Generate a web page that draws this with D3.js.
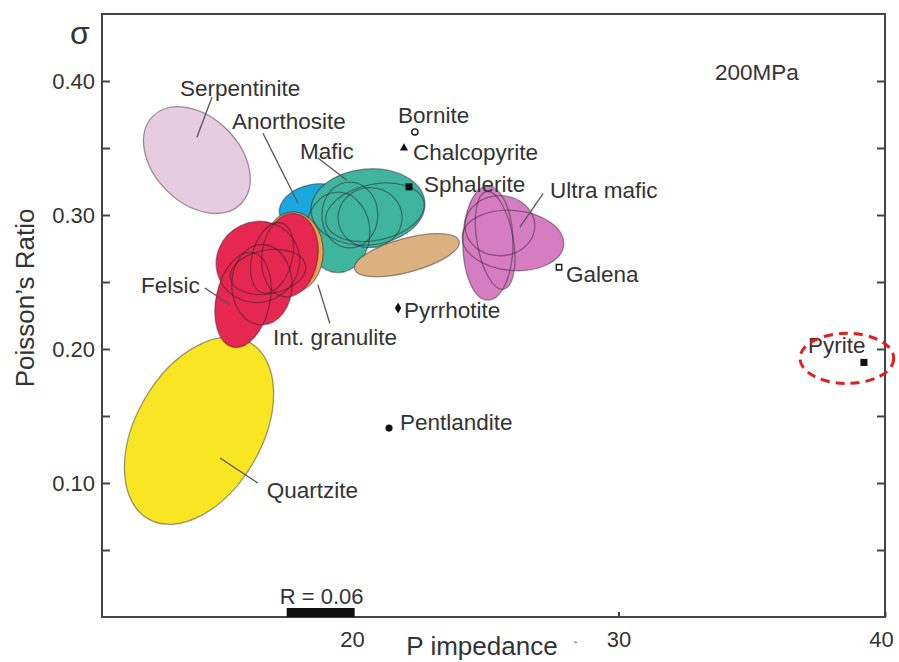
<!DOCTYPE html>
<html>
<head>
<meta charset="utf-8">
<script src="https://cdn.jsdelivr.net/npm/d3@7"></script>
<style>
  html, body { margin: 0; padding: 0; background: #fff; }
  svg { display: block; }
  text { font-family: "Liberation Sans", Arial, Helvetica, sans-serif; fill: #333; }
</style>
</head>
<body>
<svg id="chart" width="899" height="662"></svg>
<script>
// Rock fields: P impedance (x) vs Poisson's ratio (y), 200 MPa
const xDomain = [10.62, 40];
const yDomain = [0, 0.45];
const xTicks = [20, 30, 40];
const yTicks = [0.05, 0.10, 0.15, 0.20, 0.25, 0.30, 0.35, 0.40];
const yTickLabels = ["", "0.10", "", "0.20", "", "0.30", "", "0.40"];

// Field groups, drawn back to front
const groups = ["Serpentinite", "Quartzite", "Anorthosite", "Mafic", "Int. granulite", "Felsic", "Tan", "Ultra mafic"];
const groupFill = ["#e6cbe1", "#f8e622", "#1aa7db", "#3fb49f", "#f2a04e", "#e6274f", "#dbb17f", "#d67cc1"];

// Ellipses: group, centre (P, sigma), semi-axes (P units, sigma units), rotation (deg)
const ellGroup = ["Serpentinite", "Quartzite", "Anorthosite",
  "Mafic", "Mafic", "Mafic", "Mafic", "Mafic",
  "Int. granulite",
  "Felsic", "Felsic", "Felsic", "Felsic", "Felsic", "Felsic",
  "Tan",
  "Ultra mafic", "Ultra mafic", "Ultra mafic", "Ultra mafic"];
const ellP     = [14.18, 14.26, 18.61, 20.60, 19.47, 20.86, 19.92, 20.68, 17.79, 16.47, 17.67, 15.91, 17.00, 16.85, 16.62, 22.06, 25.10, 26.04, 25.55, 25.37];
const ellSigma = [0.341, 0.139, 0.305, 0.306, 0.287, 0.302, 0.300, 0.298, 0.2724, 0.265, 0.270, 0.2366, 0.268, 0.2575, 0.248, 0.270, 0.279, 0.281, 0.292, 0.281];
const ellRP    = [2.33, 3.82, 1.35, 2.14, 1.20, 1.88, 1.05, 1.20, 1.13, 1.58, 1.05, 1.01, 0.75, 1.43, 1.13, 2.03, 0.94, 1.91, 1.31, 0.68];
const ellRS    = [0.032, 0.047, 0.018, 0.0284, 0.030, 0.0209, 0.0246, 0.0224, 0.0299, 0.030, 0.0313, 0.036, 0.027, 0.0164, 0.030, 0.0127, 0.0425, 0.0224, 0.0224, 0.037];
const ellAngle = [45, -60, -10, -5, 0, -12, 0, 0, 0, -25, 8, 12, 15, -10, 0, -15, 0, 5, 0, -10];

// Field labels: text, baseline anchor (P, sigma), leader line (P, sigma) -> (P, sigma)
const fieldLabels = ["Serpentinite", "Anorthosite", "Mafic", "Ultra mafic", "Felsic", "Int. granulite", "Quartzite"];
const fieldLabelP = [13.55, 15.50, 18.05, 27.43, 12.08, 17.04, 16.80];
const fieldLabelS = [0.389, 0.364, 0.342, 0.313, 0.242, 0.203, 0.0888];
const leaderP1 = [14.75, 16.66, 18.72, 27.17, 14.48, 19.17, 16.47];
const leaderS1 = [0.388, 0.361, 0.3425, 0.316, 0.2455, 0.219, 0.100];
const leaderP2 = [14.18, 17.97, 19.81, 26.30, 15.42, 18.72, 15.05];
const leaderS2 = [0.358, 0.309, 0.326, 0.291, 0.233, 0.248, 0.1187];

// Sulphide minerals
const minerals = ["Bornite", "Chalcopyrite", "Sphalerite", "Galena", "Pyrrhotite", "Pentlandite", "Pyrite"];
const mineralP = [22.36, 21.95, 22.14, 27.77, 21.73, 21.39, 39.21];
const mineralS = [0.362, 0.350, 0.321, 0.261, 0.2306, 0.141, 0.190];
const mineralSymbol = ["circle-open", "triangle", "square", "square-open", "diamond", "circle", "square"];
const mineralLabelP = [21.73, 22.29, 22.70, 28.03, 21.95, 21.80, 37.11];
const mineralLabelS = [0.369, 0.341, 0.317, 0.250, 0.223, 0.1396, 0.197];

// Scale bar R = 0.06 (in P units along the bottom axis)
const scaleBar = [17.55, 20.10];
// Highlight around pyrite: centre and semi-axes
const highlight = { p: 38.57, s: 0.193, rp: 1.76, rs: 0.0187 };

const svg = d3.select("#chart");
const x = d3.scaleLinear().domain(xDomain).range([102, 885]);
const y = d3.scaleLinear().domain(yDomain).range([617, 14]);
const lenX = (c, r) => x(c + r) - x(c);
const lenY = (c, r) => y(c) - y(c + r);
const labelSize = 22.5;

// Fields
const fields = svg.append("g");
groups.forEach((g, gi) => {
  const idx = ellGroup.map((name, i) => name === g ? i : -1).filter(i => i >= 0);
  const layer = fields.append("g");
  const tf = i => `translate(${x(ellP[i])},${y(ellSigma[i])}) rotate(${ellAngle[i]})`;
  layer.selectAll("ellipse.fill").data(idx).join("ellipse")
    .attr("class", "fill")
    .attr("transform", tf)
    .attr("rx", i => lenX(ellP[i], ellRP[i]))
    .attr("ry", i => lenY(ellSigma[i], ellRS[i]))
    .attr("fill", groupFill[gi]);
  layer.selectAll("ellipse.edge").data(idx).join("ellipse")
    .attr("class", "edge")
    .attr("transform", tf)
    .attr("rx", i => lenX(ellP[i], ellRP[i]))
    .attr("ry", i => lenY(ellSigma[i], ellRS[i]))
    .attr("fill", "none")
    .attr("stroke", "rgba(40,30,40,0.45)")
    .attr("stroke-width", 1.3);
});

// Leader lines and field labels
svg.append("g").selectAll("line").data(fieldLabels).join("line")
  .attr("x1", (d, i) => x(leaderP1[i])).attr("y1", (d, i) => y(leaderS1[i]))
  .attr("x2", (d, i) => x(leaderP2[i])).attr("y2", (d, i) => y(leaderS2[i]))
  .attr("stroke", "#555").attr("stroke-width", 1.3);
svg.append("g").selectAll("text").data(fieldLabels).join("text")
  .attr("x", (d, i) => x(fieldLabelP[i])).attr("y", (d, i) => y(fieldLabelS[i]))
  .attr("font-size", labelSize).text(d => d);

// Mineral points
const symType = { "circle": d3.symbolCircle, "circle-open": d3.symbolCircle, "triangle": d3.symbolTriangle,
  "square": d3.symbolSquare, "square-open": d3.symbolSquare, "diamond": d3.symbolDiamond };
const symSize = { "circle": 40, "circle-open": 30, "triangle": 30, "square": 50, "square-open": 30, "diamond": 34 };
svg.append("g").selectAll("path").data(minerals).join("path")
  .attr("transform", (d, i) => `translate(${x(mineralP[i])},${y(mineralS[i])})`)
  .attr("d", (d, i) => d3.symbol().type(symType[mineralSymbol[i]]).size(symSize[mineralSymbol[i]])())
  .attr("fill", (d, i) => mineralSymbol[i].endsWith("open") ? "#fff" : "#111")
  .attr("stroke", "#111")
  .attr("stroke-width", (d, i) => mineralSymbol[i].endsWith("open") ? 1.3 : 0);
svg.append("g").selectAll("text").data(minerals).join("text")
  .attr("x", (d, i) => x(mineralLabelP[i])).attr("y", (d, i) => y(mineralLabelS[i]))
  .attr("font-size", labelSize).text(d => d);

// Frame
svg.append("rect")
  .attr("x", x(xDomain[0])).attr("y", y(yDomain[1]))
  .attr("width", x(xDomain[1]) - x(xDomain[0])).attr("height", y(yDomain[0]) - y(yDomain[1]))
  .attr("fill", "none").attr("stroke", "#444").attr("stroke-width", 2);

// Axes
const yAxis = svg.append("g").attr("transform", `translate(${x(xDomain[0])},0)`)
  .call(d3.axisLeft(y).tickValues(yTicks).tickSize(-8).tickPadding(7)
    .tickFormat((d, i) => yTickLabels[i]));
const yAxisR = svg.append("g").attr("transform", `translate(${x(xDomain[1])},0)`)
  .call(d3.axisRight(y).tickValues(yTicks).tickSize(-8).tickFormat(""));
const xAxis = svg.append("g").attr("transform", `translate(0,${y(yDomain[0])})`)
  .call(d3.axisBottom(x).tickValues(xTicks).tickSize(-5).tickPadding(14).tickFormat(d3.format("d")));
[yAxis, yAxisR, xAxis].forEach(a => {
  a.select(".domain").remove();
  a.selectAll(".tick line").attr("stroke", "#444").attr("stroke-width", 2);
  a.selectAll(".tick text").attr("font-size", 22).attr("fill", "#333")
    .attr("font-family", "'Liberation Sans', Arial, sans-serif");
});
xAxis.selectAll(".tick text").attr("dx", (d) => d === 40 ? -4 : 0);

// Scale bar
svg.append("rect")
  .attr("x", x(scaleBar[0])).attr("y", y(yDomain[0]) - 9)
  .attr("width", x(scaleBar[1]) - x(scaleBar[0])).attr("height", 9)
  .attr("fill", "#111");
svg.append("text").attr("x", x(scaleBar[0]) - 7).attr("y", y(yDomain[0]) - 13)
  .attr("font-size", 22).text("R = 0.06");

// Pyrite highlight
svg.append("ellipse")
  .attr("cx", x(highlight.p)).attr("cy", y(highlight.s))
  .attr("rx", lenX(highlight.p, highlight.rp)).attr("ry", lenY(highlight.s, highlight.rs))
  .attr("fill", "none").attr("stroke", "#e0201e").attr("stroke-width", 3)
  .attr("stroke-dasharray", "9,6");

// Titles
svg.append("text").attr("x", 70).attr("y", 44).attr("font-size", 32).text("σ");
svg.append("text").attr("x", 715).attr("y", 80).attr("font-size", 22.5).text("200MPa");
svg.append("text")
  .attr("transform", "translate(34,298) rotate(-90)")
  .attr("text-anchor", "middle").attr("font-size", 26)
  .attr("font-family", "'Open Sans', 'Noto Sans', sans-serif")
  .text("Poisson’s Ratio");
svg.append("text").attr("x", 482).attr("y", 655)
  .attr("text-anchor", "middle").attr("font-size", 26)
  .attr("font-family", "'Open Sans', 'Noto Sans', sans-serif")
  .text("P impedance");
svg.append("text").attr("x", 574).attr("y", 650).attr("font-size", 10).attr("fill", "#999").text("ˆ");
</script>
</body>
</html>
